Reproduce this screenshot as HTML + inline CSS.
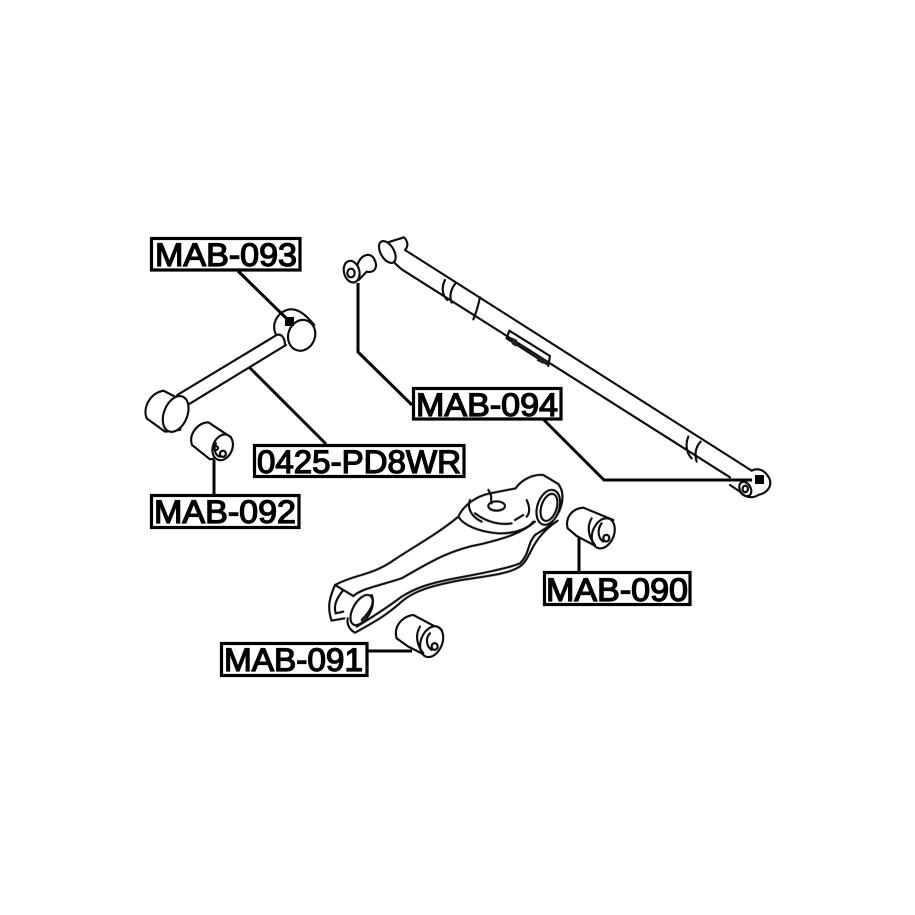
<!DOCTYPE html>
<html><head><meta charset="utf-8"><style>
html,body{margin:0;padding:0;background:#fff;width:915px;height:915px;overflow:hidden}
svg{display:block}
text{font-family:"Liberation Sans",Arial,sans-serif;font-size:32px;fill:#000;stroke:#000;stroke-width:1.3px}
.p{fill:none;stroke:#111;stroke-width:6.5;stroke-linecap:round;stroke-linejoin:round}
.w{fill:#fff}
.l{fill:none;stroke:#000;stroke-width:3;stroke-linejoin:miter}
.b{fill:#fff;stroke:#000;stroke-width:3.2}
</style></head><body>
<svg width="915" height="915" viewBox="0 0 915 915" xmlns="http://www.w3.org/2000/svg">
<defs><filter id="s" x="-5%" y="-5%" width="110%" height="110%"><feGaussianBlur stdDeviation="0.35"/></filter></defs>
<rect width="915" height="915" fill="#fff"/>
<g filter="url(#s)">

<!-- left arm + bushings -->
<g transform="translate(130,230) scale(.3333)">
<path class="p" d="M437,312C425,285 438,252 470,240C498,232 522,248 553,285"/>
<path class="p" d="M440,315L142,495M468,345L178,522M440,315C455,310 465,325 465,345"/>
<ellipse class="p w" cx="515" cy="316" rx="40" ry="47" transform="rotate(20 515 316)"/>
<path class="p w" d="M105,605L50,565C38,535 58,490 100,482L170,518L150,600Z"/>
<ellipse class="p w" cx="137" cy="552" rx="35" ry="56" transform="rotate(22 137 552)"/>
<path class="p w" d="M240,688L186,645C175,610 205,578 235,577L303,622L290,680Z"/>
<ellipse class="p w" cx="278" cy="652" rx="29" ry="40" transform="rotate(22 278 652)"/>
<path class="p" d="M258,640C248,660 258,682 275,680M285,665a9,9 0 1 0 .1,.1M262,650a6,6 0 1 0 .1,.1"/>
</g>

<!-- long arm -->
<g transform="translate(330,230) scale(.3333)">
<path class="p w" d="M82,105C95,68 125,68 133,88C145,110 135,130 110,125L86,150Z"/>
<ellipse class="p w" cx="65" cy="125" rx="23" ry="33" transform="rotate(-15 65 125)"/>
<ellipse class="p" cx="63" cy="129" rx="11" ry="13"/>
<path class="p" d="M165,40L222,22C235,35 235,50 225,60L1265,722M195,100L215,118L1200,742"/>
<ellipse class="p w" cx="172" cy="66" rx="20" ry="36" transform="rotate(-30 172 66)"/>
<path class="p" d="M345,150C335,170 335,195 352,210M375,162C362,180 358,200 365,218M450,202C445,225 438,250 430,268"/>
<path class="p" d="M530,325L538,302L660,378L655,408M530,325L655,405"/>
<path d="M545,322L562,330L558,350L545,342ZM625,378L645,388L640,402L620,392Z" fill="#222"/>
<path class="p" d="M1075,620C1065,645 1070,670 1085,685M1112,635C1098,650 1093,670 1100,695"/>
<path class="p" d="M1265,722C1285,712 1305,720 1318,745C1328,770 1310,790 1285,795C1265,808 1240,800 1230,785L1200,765"/>
<ellipse class="p w" cx="1246" cy="777" rx="16" ry="23" transform="rotate(-30 1246 777)"/>
<ellipse class="p" cx="1246" cy="777" rx="8" ry="10"/>
</g>

<!-- lower arm -->
<g transform="translate(215,470) scale(.3333)">
<path class="p" d="M360,345C420,312 470,318 540,268C600,228 670,190 730,140C745,105 785,78 825,70L902,55C920,28 955,12 985,15L1030,42C1052,70 1045,125 1005,158"/>
<path class="p" d="M360,345C345,380 335,410 350,452L388,445M360,345L415,378M385,360C365,385 355,405 362,430L385,425"/>
<path class="p" d="M415,378C440,355 500,345 560,325C640,280 700,240 800,222C870,205 920,190 960,155"/>
<path class="p" d="M398,445C395,465 405,480 420,488C470,460 510,440 560,395C600,360 660,345 740,330C820,318 900,310 925,280C950,255 950,205 1028,152L960,195C935,225 945,250 915,280C880,295 800,310 720,325C640,340 600,355 560,380C520,410 490,430 425,470"/>
<ellipse class="p w" cx="440" cy="420" rx="26" ry="50" transform="rotate(30 440 420)"/>
<path class="p" d="M470,375C480,395 470,420 440,450"/>
<path class="p" d="M730,140C745,165 790,185 850,190C900,192 940,175 955,155"/>
<path class="p" d="M765,90C755,115 770,140 800,155M820,60C835,80 825,90 830,100"/>
<path class="p" d="M780,130C820,160 860,165 890,160M900,150L925,135M935,90C945,110 945,130 935,140"/>
<ellipse class="p" cx="845" cy="108" rx="25" ry="14"/>
<ellipse class="p w" cx="1000" cy="112" rx="33" ry="54" transform="rotate(18 1000 112)"/>
<ellipse class="p" cx="1002" cy="112" rx="23" ry="42" transform="rotate(18 1002 112)"/>
<path class="p w" d="M1085,198L1058,175C1050,145 1070,115 1105,113L1195,150L1155,235Z"/>
<ellipse class="p w" cx="1165" cy="190" rx="32" ry="47" transform="rotate(22 1165 190)"/>
<path class="p" d="M1130,145C1115,170 1120,200 1140,225M1180,197a9,10 0 1 0 .1,.1M1160,160C1145,180 1150,205 1165,215"/>
<path class="p w" d="M580,530L545,505C535,470 560,440 595,435L680,480L640,560Z"/>
<ellipse class="p w" cx="650" cy="515" rx="32" ry="48" transform="rotate(22 650 515)"/>
<path class="p" d="M615,470C600,495 605,525 625,550M665,522a9,10 0 1 0 .1,.1M645,490C630,505 635,530 650,540"/>
</g>

<!-- leader lines -->
<path class="l" d="M238,271L286,318"/>
<rect x="285" y="317" width="9" height="9" fill="#000"/>
<path class="l" d="M249,367L326,444"/>
<path class="l" d="M214,460V494"/>
<path class="l" d="M358,283V352L412,405"/>
<path class="l" d="M543,419L604,480H752"/>
<rect x="755" y="475" width="9" height="9" fill="#000"/>
<path class="l" d="M579,538V572"/>
<path class="l" d="M367,651H412"/>

<!-- labels -->
<rect class="b" x="151.500" y="238.500" width="148.500" height="31.500"/>
<text x="155" y="266" textLength="142" lengthAdjust="spacingAndGlyphs">MAB-093</text>
<rect class="b" x="254.500" y="445.500" width="209.500" height="31" />
<text x="257" y="473" textLength="204" lengthAdjust="spacingAndGlyphs">0425-PD8WR</text>
<rect class="b" x="151.500" y="495.500" width="147.500" height="32"/>
<text x="154" y="523" textLength="142" lengthAdjust="spacingAndGlyphs">MAB-092</text>
<rect class="b" x="413.500" y="388.500" width="147.500" height="30.500"/>
<text x="416" y="416" textLength="142" lengthAdjust="spacingAndGlyphs">MAB-094</text>
<rect class="b" x="544.500" y="572.500" width="145.500" height="32"/>
<text x="546" y="601" textLength="142" lengthAdjust="spacingAndGlyphs">MAB-090</text>
<rect class="b" x="221.500" y="643.500" width="145.500" height="32"/>
<text x="224" y="671" textLength="139" lengthAdjust="spacingAndGlyphs">MAB-091</text>
</g>
</svg>
</body></html>
